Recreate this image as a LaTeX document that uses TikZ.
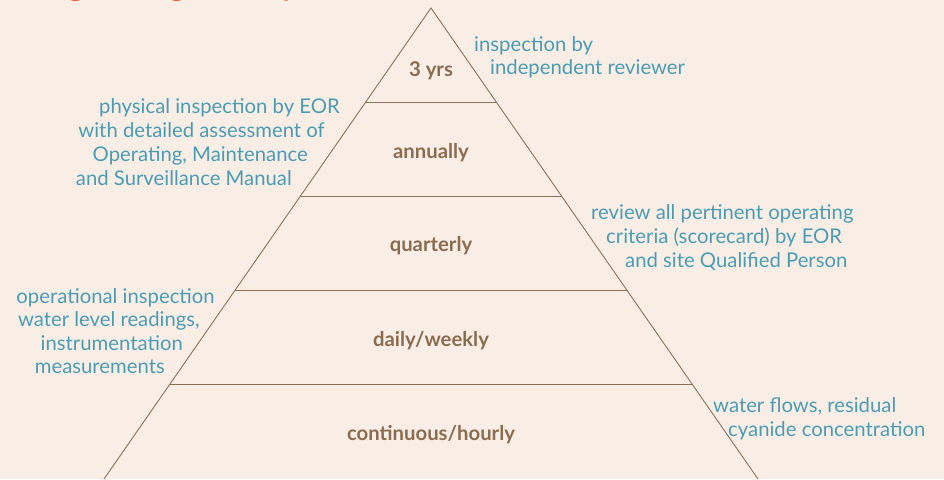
\documentclass[tikz,border=0pt]{standalone}
\usepackage{fontspec}
\setmainfont{Lato}
\usetikzlibrary{calc}
\definecolor{paper}{HTML}{F9EEE6}
\definecolor{edge}{HTML}{8B7157}
\definecolor{tier}{HTML}{8A6C50}
\definecolor{note}{HTML}{4B9CB3}
\definecolor{heading}{HTML}{E8673F}
\tikzset{
  frame/.style={draw=edge, line width=0.9pt, line join=miter},
  level/.style={text=tier, font=\fontsize{20.3}{24}\selectfont\bfseries, inner sep=0pt, anchor=base},
  notel/.style={text=note, font=\fontsize{20.3}{24}\selectfont, inner sep=0pt, anchor=base east},
  noter/.style={text=note, font=\fontsize{20.3}{24}\selectfont, inner sep=0pt, anchor=base west},
}
\begin{document}
\begin{tikzpicture}[x=1pt, y=-1pt]
\useasboundingbox (0,0) rectangle (944,479);
\fill[paper] (0,0) rectangle (944,479);
\clip (0,0) rectangle (944,479);

% heading, mostly above the visible area
\node[text=heading, font=\fontsize{28.5}{32}\selectfont\bfseries, inner sep=0pt, anchor=base west] (title) at (2,-3.5) {Tailings Storage Facility};

% pyramid outline
\coordinate (apex) at (431,8);
\coordinate (bl) at (104,479);
\coordinate (br) at (758,479);
\draw[frame] (bl) -- (apex) -- (br);
\foreach \t/\n in {0.2/a, 0.4/b, 0.6/c, 0.8/d} {
  \coordinate (l\n) at ($(apex)!\t!(bl)$);
  \coordinate (r\n) at ($(apex)!\t!(br)$);
  \draw[frame] (l\n) -- (r\n);
}

% tiers
\node[level] (t1) at (431,76) {3 yrs};
\node[level] (t2) at (431,158) {annually};
\node[level] (t3) at (431,251) {quarterly};
\node[level] (t4) at (431,346) {daily/weekly};
\node[level] (t5) at (431,440) {continuous/hourly};

% notes, right
\node[noter] (n1a) at (474,51) {inspection by};
\node[noter] (n1b) at (490,74) {independent reviewer};

\node[noter] (n3a) at (591,219) {review all pertinent operating};
\node[noter] (n3b) at (606,243) {criteria (scorecard) by EOR};
\node[noter] (n3c) at (625,267) {and site Qualified Person};

\node[noter] (n5a) at (713,412) {water flows, residual};
\node[noter] (n5b) at (728,436) {cyanide concentration};

% notes, left
\node[notel] (n2a) at (340,113) {physical inspection by EOR};
\node[notel] (n2b) at (325,137) {with detailed assessment of};
\node[notel] (n2c) at (308,161) {Operating, Maintenance};
\node[notel] (n2d) at (292,185) {and Surveillance Manual};

\node[notel] (n4a) at (215,303) {operational inspection};
\node[notel] (n4b) at (200,326) {water level readings,};
\node[notel] (n4c) at (183,350) {instrumentation};
\node[notel] (n4d) at (165,373) {measurements};
\end{tikzpicture}
\end{document}
